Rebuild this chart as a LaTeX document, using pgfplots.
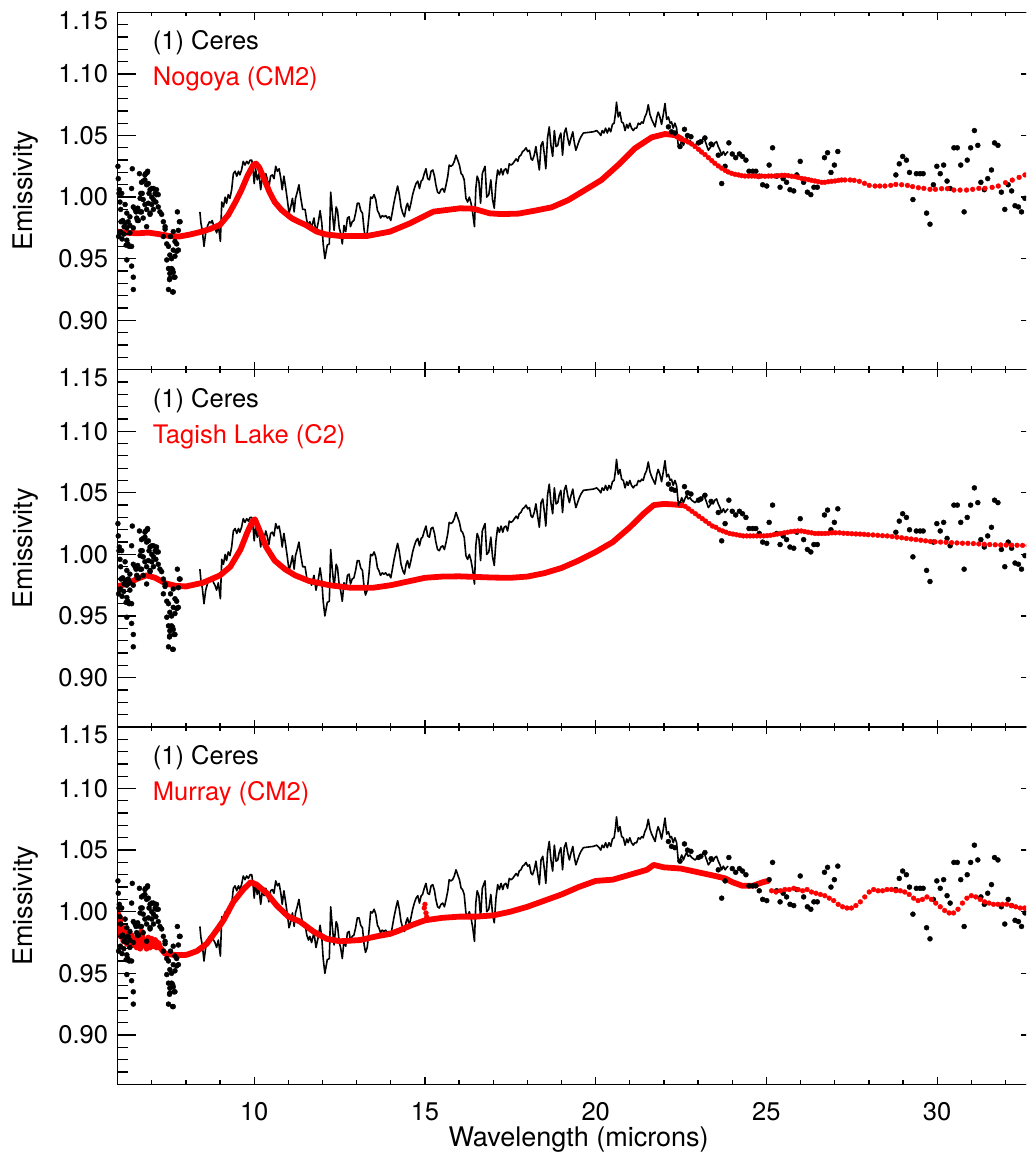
\documentclass[border=0pt]{standalone}
\usepackage{pgfplots}
\pgfplotsset{compat=1.18}
\usepackage{pgfplotstable}
\usepackage{fontspec}
\setmainfont{TeX Gyre Heros}

% ---------- Ceres: scattered points ----------
\pgfplotstableread{
x y
6.01 1.025
6.02 1.015
6.05 1.006
6.12 1.003
6.07 0.996
6.22 0.994
6.09 0.990
6.27 0.987
6.15 0.981
6.31 0.980
6.19 0.976
6.36 0.971
6.27 0.965
6.41 0.960
6.34 0.960
6.27 0.949
6.41 0.944
6.46 0.935
6.46 0.925
6.43 1.023
6.41 1.007
6.46 0.992
6.54 0.988
6.58 0.981
6.64 1.019
6.70 1.012
6.68 1.003
6.75 0.998
6.82 1.019
6.88 1.021
6.80 1.014
6.85 1.010
6.95 1.006
6.92 1.003
7.00 1.000
7.05 1.007
7.10 1.003
7.14 1.006
7.19 1.002
7.12 0.996
7.00 0.994
6.90 0.995
6.85 0.990
6.95 0.987
7.05 0.990
6.75 0.983
6.66 0.988
7.19 0.992
7.24 0.988
7.29 0.986
7.34 0.980
7.39 0.974
7.34 0.968
7.44 0.962
7.49 0.960
7.53 0.953
7.44 0.949
7.58 0.950
7.49 0.942
7.53 0.938
7.61 0.941
7.65 0.935
7.52 0.933
7.49 0.925
7.61 0.923
7.68 0.952
7.73 0.956
7.68 0.964
7.78 0.973
7.81 0.980
7.75 0.988
7.63 0.972
7.55 0.968
7.63 0.957
7.73 0.962
6.04 1.003
6.10 0.980
6.22 0.979
6.36 0.984
6.36 0.977
6.46 0.975
6.51 0.990
6.59 0.991
6.56 0.983
6.72 1.003
6.66 0.999
6.80 1.018
6.87 1.020
6.75 1.013
6.90 1.011
7.00 1.007
7.14 1.002
7.05 0.998
6.80 0.994
6.70 0.988
6.95 0.986
6.85 0.976
6.61 0.981
6.27 0.975
7.39 0.976
7.58 0.942
7.63 0.939
7.68 0.935
7.53 0.934
7.63 0.923
7.78 0.957
7.83 0.980
6.03 0.968
6.08 0.972
6.13 0.966
6.18 0.970
6.25 0.961
6.30 0.962
22.13 1.057
22.22 1.053
22.32 1.052
22.47 1.041
22.60 1.055
22.69 1.050
22.79 1.049
23.01 1.044
23.08 1.045
23.20 1.048
23.38 1.043
23.59 1.034
23.69 1.011
23.79 1.025
23.90 1.044
24.00 1.035
24.10 1.032
24.21 1.035
24.30 1.033
24.40 1.030
24.49 1.021
24.60 1.021
24.69 1.021
24.79 1.017
24.89 1.010
25.01 1.009
25.08 1.026
25.18 1.040
25.30 1.017
25.40 1.008
25.49 1.015
25.59 1.012
25.69 1.006
25.80 1.005
25.89 1.018
25.99 1.029
26.09 1.012
26.20 1.004
26.30 1.002
26.39 1.008
26.49 1.008
26.70 1.032
26.79 1.036
26.89 1.020
26.99 1.026
27.09 1.037
28.79 1.018
28.89 1.027
28.99 1.033
29.10 1.030
29.19 1.020
29.29 0.998
29.39 1.019
29.50 1.019
29.59 1.019
29.69 0.987
29.79 0.978
29.89 1.010
29.99 1.025
30.09 1.019
30.19 1.026
30.29 1.013
30.38 1.007
30.49 1.040
30.59 1.040
30.69 1.026
30.79 0.988
30.88 1.030
30.98 1.040
31.09 1.054
31.19 1.042
31.28 1.012
31.38 1.006
31.48 1.015
31.59 1.022
31.68 1.044
31.78 1.042
31.88 1.004
31.98 0.990
32.08 1.010
32.18 1.005
32.28 0.993
32.38 0.992
32.47 0.988
32.57 0.999
}\ceresdots

% ---------- Ceres: connected spectrum ----------
\pgfplotstableread{
x y
8.41 0.988
8.44 0.979
8.48 0.973
8.53 0.960
8.58 0.971
8.64 0.977
8.69 0.980
8.74 0.979
8.77 0.981
8.81 0.977
8.85 0.975
8.90 0.971
8.95 0.977
9.01 0.964
9.05 0.996
9.10 0.992
9.15 1.000
9.19 0.995
9.24 1.002
9.29 0.999
9.34 1.006
9.39 1.019
9.44 1.021
9.49 1.017
9.54 1.021
9.58 1.018
9.63 1.022
9.68 1.029
9.73 1.026
9.78 1.029
9.83 1.027
9.88 1.030
9.93 1.030
9.97 1.021
10.00 1.011
10.04 1.023
10.09 1.014
10.14 1.019
10.19 1.006
10.24 1.017
10.29 1.013
10.34 1.019
10.38 1.015
10.43 1.008
10.48 1.017
10.53 1.018
10.58 1.015
10.63 1.025
10.68 1.021
10.73 1.023
10.78 1.015
10.82 1.006
10.87 1.017
10.92 1.008
10.97 0.998
11.02 0.987
11.07 0.992
11.12 0.999
11.17 0.988
11.21 0.999
11.26 1.004
11.31 1.010
11.36 1.000
11.42 0.990
11.49 0.990
11.54 0.981
11.59 0.977
11.63 0.980
11.68 0.975
11.75 0.983
11.81 0.971
11.88 0.980
11.93 0.989
11.98 0.979
12.02 0.962
12.07 0.950
12.14 0.961
12.20 0.962
12.24 1.004
12.29 0.987
12.34 0.973
12.40 0.992
12.44 0.989
12.49 0.975
12.53 0.971
12.58 0.962
12.63 0.977
12.68 0.972
12.73 0.983
12.78 0.984
12.82 0.976
12.87 0.980
12.92 0.981
12.97 0.987
13.02 0.995
13.07 0.995
13.12 0.989
13.17 0.987
13.22 0.973
13.26 0.967
13.31 0.971
13.36 0.984
13.41 1.000
13.46 0.999
13.51 1.002
13.56 0.998
13.61 0.989
13.65 0.987
13.70 0.983
13.75 0.985
13.80 0.984
13.85 0.985
13.90 0.983
13.95 0.984
14.00 0.981
14.04 0.987
14.09 0.995
14.15 1.003
14.20 1.009
14.25 1.002
14.30 0.992
14.35 0.987
14.40 0.984
14.45 0.992
14.49 0.995
14.54 0.989
14.59 0.995
14.64 1.002
14.69 1.007
14.74 1.011
14.79 1.013
14.84 1.007
14.89 1.013
14.93 1.014
14.98 1.019
15.03 1.023
15.08 1.015
15.13 1.014
15.18 1.021
15.23 1.022
15.28 1.017
15.32 1.010
15.37 1.004
15.42 1.003
15.47 1.006
15.52 1.007
15.57 1.004
15.62 1.010
15.67 1.017
15.71 1.026
15.76 1.025
15.81 1.026
15.86 1.029
15.91 1.034
15.96 1.030
16.01 1.026
16.06 1.019
16.10 1.018
16.15 1.014
16.20 0.999
16.25 0.996
16.30 1.000
16.35 0.995
16.40 0.987
16.45 0.976
16.49 1.007
16.53 1.017
16.58 1.013
16.63 0.995
16.68 1.019
16.73 1.023
16.76 1.025
16.81 1.000
16.87 1.002
16.93 1.014
16.98 0.998
17.03 0.991
17.08 1.011
17.13 1.022
17.18 1.018
17.23 1.023
17.28 1.018
17.32 1.022
17.37 1.023
17.42 1.019
17.47 1.027
17.52 1.026
17.57 1.027
17.62 1.029
17.67 1.031
17.72 1.029
17.76 1.033
17.81 1.034
17.86 1.037
17.91 1.038
17.96 1.040
18.01 1.037
18.06 1.038
18.11 1.031
18.15 1.030
18.20 1.034
18.25 1.041
18.30 1.031
18.35 1.022
18.40 1.042
18.45 1.045
18.50 1.034
18.54 1.023
18.59 1.048
18.64 1.057
18.69 1.042
18.74 1.033
18.79 1.054
18.84 1.041
18.89 1.042
18.93 1.048
18.98 1.052
19.03 1.034
19.08 1.052
19.13 1.056
19.18 1.048
19.23 1.042
19.28 1.048
19.33 1.053
19.37 1.045
19.42 1.038
19.47 1.042
19.52 1.046
19.57 1.049
19.64 1.052
19.93 1.053
20.03 1.054
20.10 1.052
20.15 1.050
20.19 1.054
20.24 1.052
20.29 1.056
20.34 1.052
20.39 1.056
20.44 1.053
20.49 1.059
20.54 1.060
20.58 1.068
20.61 1.077
20.66 1.065
20.71 1.069
20.76 1.061
20.81 1.060
20.86 1.054
20.91 1.059
20.95 1.056
21.00 1.060
21.05 1.056
21.10 1.054
21.15 1.056
21.20 1.056
21.25 1.060
21.30 1.059
21.35 1.061
21.39 1.060
21.44 1.065
21.49 1.068
21.54 1.075
21.59 1.067
21.64 1.063
21.69 1.060
21.74 1.057
21.79 1.065
21.83 1.069
21.88 1.065
21.93 1.059
21.98 1.067
22.03 1.076
22.08 1.063
22.13 1.065
22.18 1.060
22.22 1.061
22.27 1.056
22.32 1.060
22.37 1.056
22.42 1.041
22.47 1.042
22.52 1.046
22.57 1.042
22.61 1.045
22.66 1.048
22.71 1.045
22.76 1.046
22.81 1.044
22.91 1.042
23.01 1.045
23.10 1.045
23.15 1.048
23.20 1.046
23.25 1.042
23.30 1.038
23.35 1.040
23.40 1.042
23.44 1.041
23.49 1.044
23.54 1.045
23.59 1.041
23.64 1.038
23.69 1.034
23.74 1.037
23.79 1.034
23.84 1.036
23.88 1.037
}\cereslin

% ---------- Nogoya (CM2) ----------
\pgfplotstableread{
x y
6.00 0.9719
6.30 0.9710
6.60 0.9706
6.90 0.9712
7.20 0.9700
7.50 0.9685
7.80 0.9680
8.10 0.9695
8.40 0.9715
8.70 0.9740
9.00 0.9775
9.24 0.9855
9.45 0.9960
9.63 1.0060
9.80 1.0170
9.97 1.0260
10.05 1.0272
10.15 1.0240
10.30 1.0140
10.45 1.0040
10.60 0.9960
10.80 0.9895
11.10 0.9828
11.30 0.9800
11.50 0.9775
11.83 0.9720
12.10 0.9697
12.50 0.9685
13.30 0.9684
13.98 0.9720
14.56 0.9787
15.25 0.9882
16.03 0.9909
16.42 0.9906
16.90 0.9868
17.25 0.9862
17.74 0.9866
18.22 0.9890
18.71 0.9917
19.20 0.9976
19.69 1.0058
20.17 1.0139
20.66 1.0261
21.15 1.0396
21.64 1.0485
22.03 1.0512
22.32 1.0503
22.52 1.0471
}\redAlin
\pgfplotstableread{
x y
22.52 1.0471
22.61 1.0460
22.71 1.0447
22.81 1.0431
22.91 1.0410
23.01 1.0388
23.10 1.0366
23.20 1.0345
23.30 1.0320
23.40 1.0296
23.49 1.0274
23.59 1.0253
23.69 1.0234
23.79 1.0217
23.88 1.0204
23.98 1.0193
24.08 1.0185
24.18 1.0180
24.27 1.0174
24.37 1.0171
24.47 1.0171
24.57 1.0171
24.66 1.0171
24.76 1.0166
24.86 1.0171
24.96 1.0169
25.06 1.0171
25.15 1.0171
25.25 1.0171
25.35 1.0174
25.45 1.0177
25.54 1.0177
25.64 1.0174
25.74 1.0169
25.84 1.0166
25.93 1.0160
26.03 1.0152
26.13 1.0147
26.23 1.0142
26.32 1.0136
26.42 1.0131
26.52 1.0125
26.62 1.0120
26.71 1.0120
26.81 1.0125
26.91 1.0128
27.01 1.0131
27.11 1.0136
27.20 1.0139
27.30 1.0139
27.45 1.0139
27.57 1.0136
27.72 1.0128
27.87 1.0112
28.01 1.0095
28.18 1.0090
28.32 1.0090
28.47 1.0090
28.64 1.0095
28.79 1.0103
28.96 1.0100
29.13 1.0095
29.28 1.0085
29.45 1.0076
29.61 1.0071
29.79 1.0063
29.95 1.0063
30.13 1.0068
30.30 1.0068
30.49 1.0057
30.67 1.0057
30.86 1.0057
31.04 1.0063
31.22 1.0071
31.40 1.0071
31.61 1.0079
31.79 1.0090
32.00 1.0117
32.20 1.0138
32.40 1.0160
32.57 1.0180
32.75 1.0200
}\redAdot

% ---------- Tagish Lake (C2) ----------
\pgfplotstableread{
x y
6.00 0.9740
6.30 0.9765
6.60 0.9805
6.85 0.9830
7.10 0.9810
7.40 0.9765
7.70 0.9745
8.00 0.9740
8.50 0.9770
9.00 0.9830
9.30 0.9900
9.60 1.0040
9.80 1.0180
9.95 1.0270
10.02 1.0285
10.15 1.0200
10.35 1.0060
10.60 0.9950
10.90 0.9880
11.20 0.9830
11.60 0.9785
12.20 0.9750
12.80 0.9730
13.50 0.9730
14.00 0.9750
14.50 0.9780
15.00 0.9810
15.50 0.9820
16.00 0.9822
17.00 0.9812
17.50 0.9810
18.00 0.9820
18.50 0.9848
19.00 0.9890
19.50 0.9950
20.00 1.0020
20.50 1.0100
21.00 1.0220
21.40 1.0330
21.70 1.0400
22.00 1.0410
22.30 1.0405
22.52 1.0400
}\redBlin
\pgfplotstableread{
x y
22.52 1.0400
22.62 1.0390
22.72 1.0370
22.82 1.0350
22.92 1.0330
23.02 1.0310
23.12 1.0290
23.22 1.0270
23.32 1.0250
23.42 1.0230
23.52 1.0220
23.62 1.0200
23.72 1.0190
23.82 1.0180
23.92 1.0170
24.02 1.0165
24.12 1.0160
24.22 1.0155
24.32 1.0150
24.42 1.0150
24.52 1.0150
24.62 1.0150
24.72 1.0150
24.82 1.0150
24.92 1.0150
25.02 1.0152
25.12 1.0155
25.22 1.0160
25.32 1.0165
25.42 1.0170
25.52 1.0175
25.62 1.0180
25.72 1.0185
25.82 1.0188
25.92 1.0190
26.02 1.0190
26.12 1.0185
26.22 1.0180
26.32 1.0175
26.42 1.0170
26.52 1.0170
26.62 1.0170
26.72 1.0170
26.82 1.0172
26.92 1.0175
27.02 1.0175
27.14 1.0175
27.26 1.0172
27.38 1.0170
27.50 1.0168
27.62 1.0166
27.74 1.0165
27.86 1.0163
27.98 1.0160
28.12 1.0158
28.26 1.0155
28.40 1.0152
28.54 1.0150
28.68 1.0145
28.82 1.0140
28.96 1.0135
29.10 1.0130
29.24 1.0125
29.38 1.0120
29.52 1.0115
29.66 1.0110
29.80 1.0105
29.94 1.0102
30.10 1.0100
30.26 1.0098
30.42 1.0095
30.58 1.0093
30.74 1.0091
30.90 1.0090
31.06 1.0088
31.22 1.0085
31.38 1.0082
31.54 1.0080
31.70 1.0078
31.86 1.0077
32.02 1.0076
32.18 1.0075
32.34 1.0074
32.50 1.0073
32.66 1.0072
}\redBdot

% ---------- Murray (CM2) ----------
\pgfplotstableread{
x y
6.00 1.001
6.04 0.990
6.07 0.995
6.09 0.980
6.13 0.988
6.17 0.976
6.22 0.983
6.27 0.974
6.31 0.979
6.36 0.972
6.41 0.981
6.46 0.973
6.51 0.977
6.56 0.971
6.61 0.982
6.66 0.970
6.70 0.984
6.75 0.973
6.80 0.977
6.85 0.970
6.90 0.979
6.95 0.971
7.00 0.978
7.05 0.972
7.10 0.977
7.14 0.971
7.19 0.975
7.24 0.971
7.30 0.969
7.39 0.966
7.50 0.9655
7.63 0.965
7.80 0.9648
8.02 0.965
8.32 0.968
8.61 0.974
8.90 0.985
9.10 0.993
9.39 1.008
9.68 1.018
9.90 1.024
10.07 1.022
10.37 1.015
10.66 1.005
11.00 0.996
11.34 0.992
11.73 0.984
12.12 0.978
12.51 0.976
13.10 0.977
13.58 0.980
13.98 0.982
14.27 0.985
14.60 0.989
15.00 0.993
15.50 0.995
16.00 0.996
16.50 0.996
17.00 0.997
17.50 1.000
18.00 1.004
18.50 1.009
19.00 1.014
19.50 1.020
20.00 1.025
20.50 1.026
21.00 1.030
21.50 1.034
21.70 1.038
22.00 1.036
22.50 1.035
23.00 1.032
23.50 1.029
23.80 1.027
24.00 1.024
24.30 1.021
24.60 1.021
24.90 1.024
25.05 1.025
}\redClin
\pgfplotstableread{
x y
14.98 1.003
15.00 1.006
15.03 0.999
15.05 0.996
25.15 1.017
25.28 1.016
25.41 1.017
25.54 1.018
25.67 1.018
25.80 1.019
25.93 1.018
26.06 1.017
26.19 1.018
26.32 1.016
26.45 1.015
26.58 1.014
26.71 1.013
26.84 1.011
26.97 1.009
27.10 1.006
27.23 1.004
27.36 1.003
27.49 1.003
27.62 1.005
27.75 1.008
27.88 1.012
28.01 1.016
28.14 1.018
28.27 1.017
28.40 1.017
28.53 1.018
28.66 1.018
28.79 1.017
28.92 1.017
29.05 1.016
29.18 1.014
29.31 1.011
29.44 1.009
29.57 1.010
29.70 1.012
29.83 1.010
29.96 1.007
30.09 1.004
30.22 1.001
30.35 0.999
30.48 0.999
30.61 1.002
30.74 1.007
30.87 1.011
31.00 1.013
31.13 1.012
31.26 1.010
31.39 1.008
31.52 1.007
31.65 1.006
31.78 1.006
31.91 1.006
32.04 1.006
32.17 1.005
32.30 1.004
32.43 1.003
32.56 1.003
}\redCdot

\newcommand{\labfont}{\fontsize{27}{32}\selectfont}
\newcommand{\tickfont}{\fontsize{25.5}{30}\selectfont}

\pgfplotsset{
  basepanel/.style={
    scale only axis, width=922pt, height=357.3pt,
    xmin=6, xmax=33, ymin=0.86, ymax=1.15,
    axis line style={line width=1.3pt},
    every tick/.append style={line width=1.3pt, black},
    tick align=inside,
    tick label style={font=\tickfont},
  },
  xpanel/.style={basepanel,
    xtick={10,15,20,25,30}, minor xtick={6,...,33},
    ytick=\empty,
    major tick length=7.3pt, minor tick length=3.8pt,
    xticklabels={,,},
    xticklabel style={anchor=base, inner sep=0pt, yshift=-36pt},
  },
  ypanel/.style={basepanel,
    clip=false,
    xtick=\empty,
    ytick={0.90,0.95,1.00,1.05,1.10},
    yticklabels={0.90,0.95,1.00,1.05,1.10},
    extra y ticks={1.15}, extra y tick labels={1.15},
    extra y tick style={yticklabel style={yshift=-8pt}},
    minor ytick={0.86,0.87,...,1.15},
    major tick length=18.7pt, minor tick length=10pt,
    yticklabel style={anchor=east, inner sep=0pt, xshift=-9.3pt},
  },
  cdots/.style={only marks, mark=*, mark size=2.5pt, black, mark options={draw=none, fill=black}},
  cline/.style={no marks, black, line width=1.6pt, line join=round},
  rline/.style={no marks, red, line width=5.8pt, line join=round, line cap=round},
  rdots/.style={only marks, mark=*, mark size=2.4pt, red, mark options={draw=none, fill=red}},
}

\begin{document}
\tickfont
\begin{tikzpicture}
\useasboundingbox (0pt,0pt) rectangle (1026pt,1155pt);
\clip (0pt,0pt) rectangle (1026pt,1155pt);

% ===== Panel 1 =====
\begin{axis}[xpanel, at={(117.6pt,785.4pt)}, anchor=south west]
\addplot[cdots] table[x=x,y=y] {\ceresdots};
\addplot[cline] table[x=x,y=y] {\cereslin};
\addplot[rline] table[x=x,y=y] {\redAlin};
\addplot[rdots] table[x=x,y=y] {\redAdot};
\node[anchor=base west, inner sep=0pt, black] at (axis description cs:0.0381,0.8945) {(1) Ceres};
\node[anchor=base west, inner sep=0pt, red] at (axis description cs:0.0381,0.7937) {Nogoya (CM2)};
\end{axis}
\begin{axis}[ypanel, at={(117.6pt,785.4pt)}, anchor=south west]
\node[rotate=90, anchor=base, inner sep=0pt, font=\labfont] at (axis description cs:-0.0918,0.5) {Emissivity};
\end{axis}

% ===== Panel 2 =====
\begin{axis}[xpanel, at={(117.6pt,428.1pt)}, anchor=south west]
\addplot[cdots] table[x=x,y=y] {\ceresdots};
\addplot[cline] table[x=x,y=y] {\cereslin};
\addplot[rline] table[x=x,y=y] {\redBlin};
\addplot[rdots] table[x=x,y=y] {\redBdot};
\node[anchor=base west, inner sep=0pt, black] at (axis description cs:0.0381,0.8945) {(1) Ceres};
\node[anchor=base west, inner sep=0pt, red] at (axis description cs:0.0381,0.7937) {Tagish Lake (C2)};
\end{axis}
\begin{axis}[ypanel, at={(117.6pt,428.1pt)}, anchor=south west]
\node[rotate=90, anchor=base, inner sep=0pt, font=\labfont] at (axis description cs:-0.0918,0.5) {Emissivity};
\end{axis}

% ===== Panel 3 =====
\begin{axis}[xpanel, at={(117.6pt,70.8pt)}, anchor=south west,
  xticklabels={10,15,20,25,30}]
\addplot[cdots] table[x=x,y=y] {\ceresdots};
\addplot[cline] table[x=x,y=y] {\cereslin};
\addplot[rline] table[x=x,y=y] {\redClin};
\addplot[rdots] table[x=x,y=y] {\redCdot};
\node[anchor=base west, inner sep=0pt, black] at (axis description cs:0.0381,0.8945) {(1) Ceres};
\node[anchor=base west, inner sep=0pt, red] at (axis description cs:0.0381,0.7937) {Murray (CM2)};
\end{axis}
\begin{axis}[ypanel, at={(117.6pt,70.8pt)}, anchor=south west]
\node[rotate=90, anchor=base, inner sep=0pt, font=\labfont] at (axis description cs:-0.0918,0.5) {Emissivity};
\node[anchor=base, inner sep=0pt, font=\labfont] at (axis description cs:0.5,-0.173) {Wavelength (microns)};
\end{axis}
\end{tikzpicture}
\end{document}
